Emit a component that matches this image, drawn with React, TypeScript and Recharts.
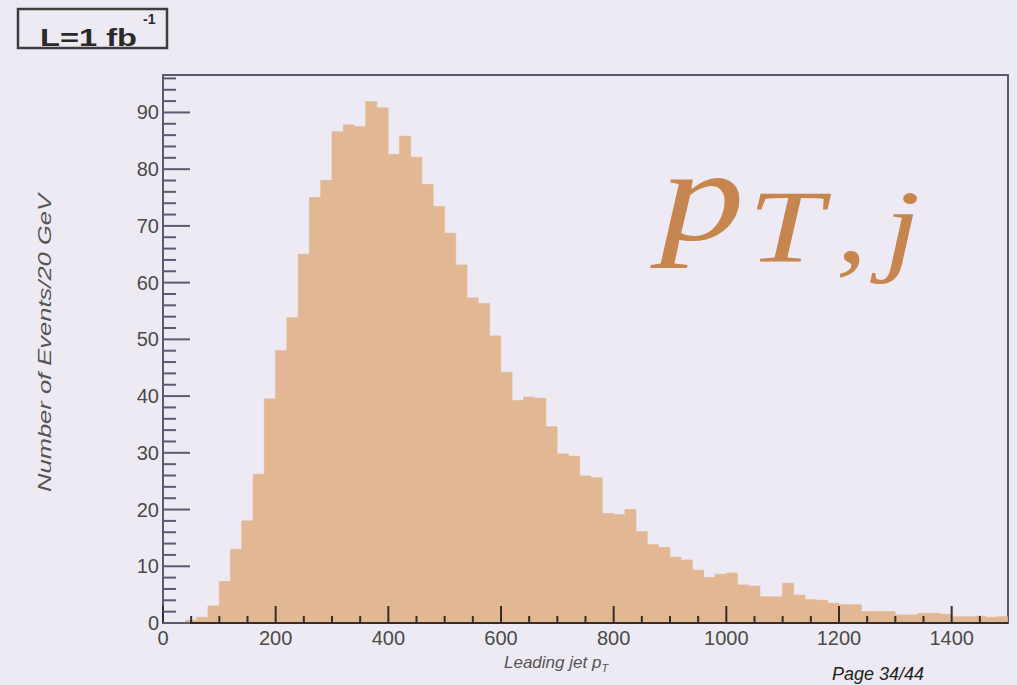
import React from 'react';
import { ComposedChart, Bar, XAxis, YAxis, ReferenceArea } from 'recharts';

// Bin centres (GeV) of the 20 GeV wide bins from 0 to 1500
const binCenters = [
  10, 30, 50, 70, 90, 110, 130, 150, 170, 190,
  210, 230, 250, 270, 290, 310, 330, 350, 370, 390,
  410, 430, 450, 470, 490, 510, 530, 550, 570, 590,
  610, 630, 650, 670, 690, 710, 730, 750, 770, 790,
  810, 830, 850, 870, 890, 910, 930, 950, 970, 990,
  1010, 1030, 1050, 1070, 1090, 1110, 1130, 1150, 1170, 1190,
  1210, 1230, 1250, 1270, 1290, 1310, 1330, 1350, 1370, 1390,
  1410, 1430, 1450, 1470, 1490,
];

// Number of events per bin
const eventCounts = [
  0, 0, 0.5, 1.0, 3.0, 7.3, 13.0, 18.0, 26.2, 39.5,
  48.0, 53.8, 65.0, 75.0, 78.0, 86.6, 87.8, 87.5, 91.9, 90.8,
  82.6, 85.8, 82.1, 77.3, 73.4, 68.7, 63.1, 57.3, 56.3, 50.6,
  44.2, 39.2, 39.8, 39.6, 34.6, 29.8, 29.4, 25.9, 25.6, 19.3,
  19.1, 20.0, 16.1, 13.8, 13.3, 11.6, 11.1, 9.3, 8.0, 8.6,
  8.8, 6.7, 6.5, 4.6, 4.6, 7.0, 4.9, 4.1, 4.0, 3.5,
  3.2, 3.2, 2.0, 2.0, 2.0, 1.4, 1.4, 1.7, 1.7, 1.5,
  1.1, 1.1, 1.2, 1.0, 1.1,
];

// Axis tick positions (major + minor)
const xTickValues = [
  0, 50, 100, 150, 200, 250, 300, 350, 400, 450, 500, 550, 600, 650, 700,
  750, 800, 850, 900, 950, 1000, 1050, 1100, 1150, 1200, 1250, 1300, 1350,
  1400, 1450,
];
const yTickValues = [
  0, 2, 4, 6, 8, 10, 12, 14, 16, 18, 20, 22, 24, 26, 28, 30, 32, 34, 36, 38,
  40, 42, 44, 46, 48, 50, 52, 54, 56, 58, 60, 62, 64, 66, 68, 70, 72, 74, 76,
  78, 80, 82, 84, 86, 88, 90, 92, 94, 96,
];
const xMajorStep = 200;
const yMajorStep = 10;
const xMax = 1500;
const yMax = 96.6;

const data = binCenters.map((c, i) => ({ center: c, count: eventCounts[i] }));

const BG = '#EEEAF3';
const BAR = '#E2B894';
const FRAME = '#5A5A70';
const AXIS = '#352C2C';
const LABEL = '#4A4A4A';
const SANS = '"Liberation Sans", Arial, Helvetica, sans-serif';
const SERIF = '"Liberation Serif", "Times New Roman", serif';
const TITLE_COLOR = '#C78650';

const XTick = (props: any) => {
  const { x, y, payload } = props;
  const v = payload.value as number;
  const major = v % xMajorStep === 0;
  return (
    <g>
      <line x1={x} x2={x} y1={y} y2={y - (major ? 17 : 7)} stroke={AXIS} strokeWidth={2} />
      {major && (
        <text x={x} y={y + 22} textAnchor="middle" fontFamily={SANS} fontSize={20} fill={LABEL}>
          {v}
        </text>
      )}
    </g>
  );
};

const YTick = (props: any) => {
  const { x, y, payload } = props;
  const v = payload.value as number;
  const major = v % yMajorStep === 0;
  return (
    <g>
      <line x1={x} x2={x + (major ? 27 : 13)} y1={y} y2={y} stroke={FRAME} strokeWidth={2} />
      {major && (
        <text x={x - 4} y={y + 7} textAnchor="end" fontFamily={SANS} fontSize={20} fill={LABEL}>
          {v}
        </text>
      )}
    </g>
  );
};

export default function App() {
  return (
    <div
      style={{
        position: 'absolute',
        left: 0,
        top: 0,
        width: 1017,
        height: 685,
        background: BG,
        overflow: 'hidden',
      }}
    >
      <ComposedChart
        width={1017}
        height={685}
        data={data}
        margin={{ top: 75, right: 9, bottom: 32, left: 103 }}
        barCategoryGap={0}
        barGap={0}
      >
        <XAxis
          dataKey="center"
          type="number"
          domain={[0, xMax]}
          ticks={xTickValues}
          interval={0}
          tickSize={0}
          tickMargin={0}
          tick={<XTick />}
          axisLine={{ stroke: AXIS, strokeWidth: 2 }}
          height={30}
          allowDataOverflow
        />
        <YAxis
          type="number"
          domain={[0, yMax]}
          ticks={yTickValues}
          interval={0}
          tickSize={0}
          tickMargin={0}
          tick={<YTick />}
          axisLine={{ stroke: FRAME, strokeWidth: 2 }}
          width={60}
          allowDataOverflow
        />
        <Bar
          dataKey="count"
          fill={BAR}
          stroke={BAR}
          strokeWidth={0.8}
          isAnimationActive={false}
        />
        <ReferenceArea
          x1={0}
          x2={xMax}
          y1={0}
          y2={yMax}
          fill="none"
          fillOpacity={0}
          stroke={FRAME}
          strokeWidth={2}
          ifOverflow="visible"
        />
      </ComposedChart>

      <svg
        width={1017}
        height={685}
        style={{ position: 'absolute', left: 0, top: 0, pointerEvents: 'none' }}
      >
        {/* luminosity box */}
        <rect x={18} y={9} width={149} height={39} fill="none" stroke="#3E3E3E" strokeWidth={2.5} />
        <text x={40} y={46} fontFamily={SANS} fontWeight="bold" fontSize={24} fill="#2A2A2A">
          <tspan textLength={97} lengthAdjust="spacingAndGlyphs">L=1 fb</tspan>
        </text>
        <text x={143} y={24} fontFamily={SANS} fontWeight="bold" fontSize={14} fill="#2A2A2A">
          -1
        </text>

        {/* axis titles */}
        <text
          transform="translate(51, 343) rotate(-90)"
          textAnchor="middle"
          fontFamily={SANS}
          fontStyle="italic"
          fontSize={19}
          fill="#555"
          textLength={298}
          lengthAdjust="spacingAndGlyphs"
        >
          Number of Events/20 GeV
        </text>
        <text x={504} y={668} fontFamily={SANS} fontStyle="italic" fontSize={17} fill="#555">
          Leading jet p<tspan dy={4} fontSize={11}>T</tspan>
        </text>

        {/* observable name */}
        <g fontFamily={SERIF} fontStyle="italic" fill={TITLE_COLOR}>
          <text transform="translate(660, 240) scale(1.28, 1)" fontSize={132}>p</text>
          <text transform="translate(748, 262) scale(1.3, 1)" fontSize={104}>T</text>
          <text transform="translate(836, 262) scale(1.2, 1)" fontSize={104}>,</text>
          <text transform="translate(884, 262) scale(1.25, 1)" fontSize={104}>j</text>
        </g>

        <text x={832} y={680} fontFamily={SANS} fontStyle="italic" fontSize={18} fill="#222">
          Page 34/44
        </text>
      </svg>
    </div>
  );
}
